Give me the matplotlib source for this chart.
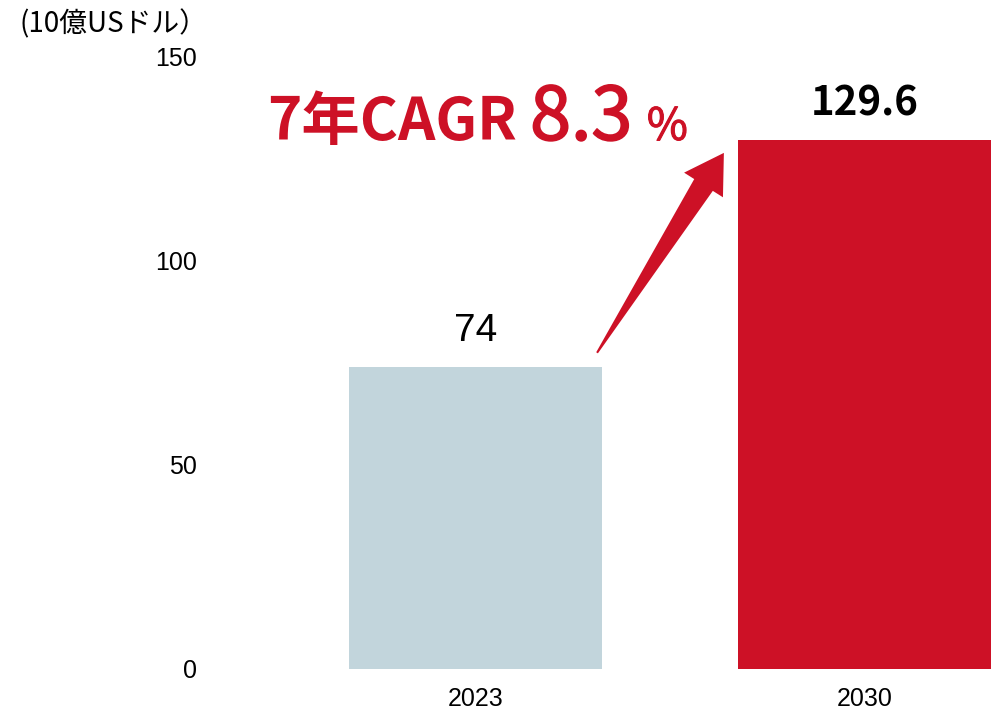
import numpy as np
import matplotlib
matplotlib.use('Agg')
import matplotlib.pyplot as plt
import matplotlib.patheffects as pe
from matplotlib.patches import Polygon
from matplotlib.transforms import IdentityTransform

# data
years = ['2023', '2030']
values = [74, 129.6]
value_labels = ['74', '129.6']
yticks = [0, 50, 100, 150]
unit_label = '(10億USドル）'
cagr_head = '7年CAGR'
cagr_num = '8.3'
cagr_pct = '%'

RED = '#CD1126'
GREY = '#C2D5DC'
JP = ['Noto Sans CJK JP', 'DejaVu Sans']

fig = plt.figure(figsize=(9.97, 7.14), dpi=100)
ax = fig.add_axes([215 / 997, 45 / 714, 782 / 997, 612 / 714])

x = np.arange(len(years))
ax.bar(x, values, width=0.65, color=[GREY, RED])

ax.set_xlim(-0.67, 1.34)
ax.set_ylim(0, 150)
ax.set_yticks(yticks)
ax.set_yticklabels([str(t) for t in yticks], family='Liberation Sans', fontsize=18)
ax.set_xticks(x)
ax.set_xticklabels(years, family='Liberation Sans', fontsize=18)
ax.tick_params(axis='y', length=0, pad=13)
ax.tick_params(axis='x', length=0, pad=13)
for s in ax.spines.values():
    s.set_visible(False)

# value labels
ax.text(x[0], values[0] + 4.5, value_labels[0], ha='center', va='bottom',
        family='Liberation Sans', fontsize=28)
ax.text(x[1], values[1] + 3.8, value_labels[1], ha='center', va='bottom',
        family=JP, fontsize=29, fontweight='bold')

# unit label
fig.text(19 / 997, 1 - 24 / 714, unit_label, ha='left', va='center',
         family=JP, fontsize=20)

# CAGR text
ax.text(-0.537, 129.7, cagr_head, ha='left', va='baseline', color=RED,
        family=JP, fontsize=42, fontweight='bold')
ax.text(0.14, 129.7, cagr_num, ha='left', va='baseline', color=RED,
        family=JP, fontsize=53,
        path_effects=[pe.withStroke(linewidth=1.3, foreground=RED)])
ax.text(0.44, 129.7, cagr_pct, ha='left', va='baseline', color=RED,
        family=JP, fontsize=32,
        path_effects=[pe.withStroke(linewidth=0.8, foreground=RED)])

# arrow from 2023 bar towards 2030 bar
tail = ax.transData.transform((0.312, 77.5))
tip = ax.transData.transform((0.638, 126.5))
u = (tip - tail) / np.hypot(*(tip - tail))
n = np.array([-u[1], u[0]])
head_len, head_hw, neck_hw, tail_hw = 38, 23, 11, 1
base = tip - u * head_len
pts = [tail + n * tail_hw, base + n * neck_hw, base + n * head_hw, tip,
       base - n * head_hw, base - n * neck_hw, tail - n * tail_hw]
fig.patches.append(Polygon(pts, closed=True, facecolor=RED, edgecolor='none',
                           transform=IdentityTransform(), figure=fig))

fig.savefig('out.png', dpi=100)
